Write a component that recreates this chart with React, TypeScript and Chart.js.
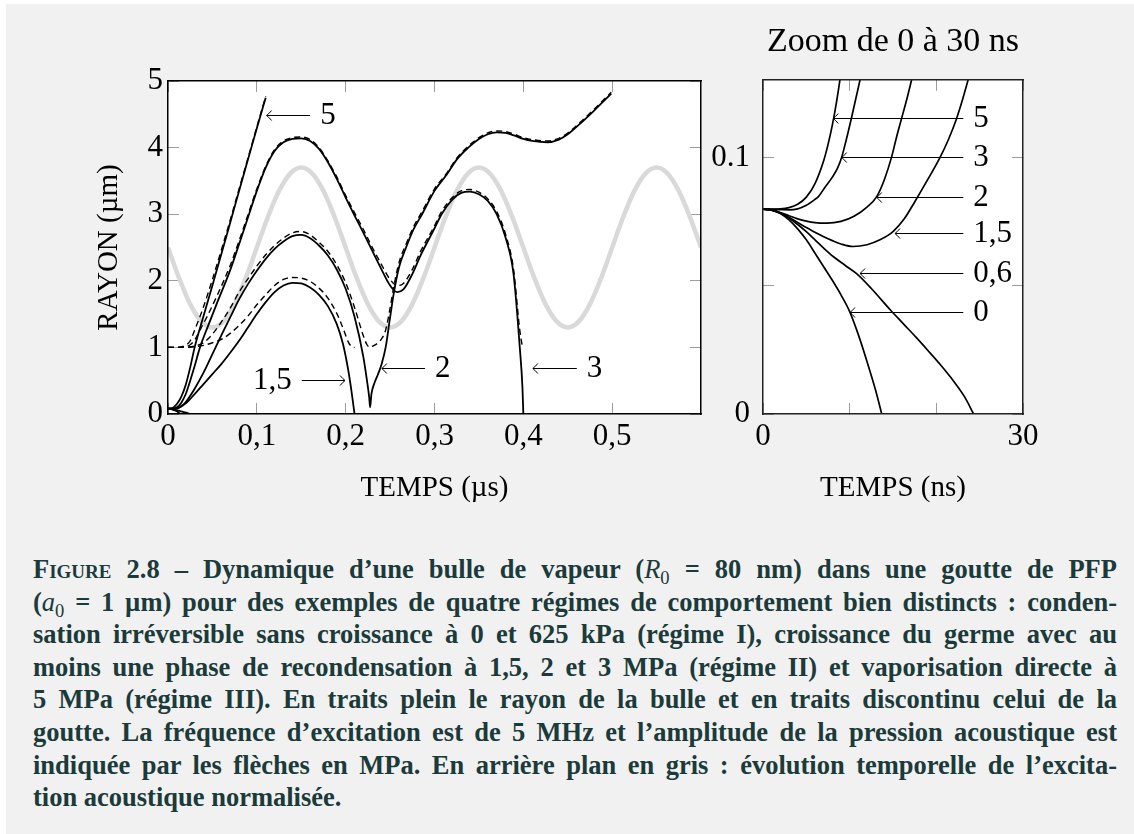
import React, { useEffect, useRef } from 'react';
import { Chart, registerables } from 'chart.js';

Chart.register(...registerables);

const SERIF = '"Liberation Serif", "Times New Roman", serif';

// ---------------- Left panel : time (µs) / radius (µm) ----------------
// 5 MPa bubble (solid) and droplet (dashed)
const t5 = [0, 0.005, 0.01, 0.015, 0.02, 0.025, 0.03, 0.04, 0.05, 0.06, 0.07, 0.08, 0.09, 0.1, 0.11];
const r5 = [0.08, 0.09, 0.15, 0.26, 0.44, 0.7, 1.0, 1.47, 1.93, 2.4, 2.87, 3.35, 3.82, 4.29, 4.75];
const d5 = [1.0, 1.0, 1.0, 1.01, 1.03, 1.1, 1.26, 1.61, 2.02, 2.46, 2.91, 3.38, 3.84, 4.31, 4.77];

// 3 MPa
const t3 = [0, 0.005, 0.01, 0.015, 0.02, 0.025, 0.03, 0.036, 0.045, 0.055, 0.07, 0.08, 0.09, 0.1, 0.11, 0.12, 0.13, 0.14, 0.15, 0.16, 0.17, 0.18, 0.19, 0.2, 0.21, 0.22, 0.23, 0.24, 0.25, 0.258, 0.265, 0.275, 0.285, 0.299, 0.308, 0.32, 0.33, 0.34, 0.35, 0.36, 0.37, 0.38, 0.389, 0.396, 0.399, 0.4];
const r3 = [0.08, 0.08, 0.1, 0.17, 0.3, 0.5, 0.72, 1.0, 1.32, 1.66, 2.16, 2.55, 2.95, 3.35, 3.7, 3.95, 4.08, 4.13, 4.14, 4.1, 3.98, 3.78, 3.53, 3.25, 2.98, 2.72, 2.45, 2.18, 1.93, 1.83, 1.87, 2.1, 2.4, 2.76, 3.0, 3.22, 3.32, 3.34, 3.3, 3.2, 3.0, 2.65, 2.1, 1.0, 0.4, 0];
const d3 = [1.0, 1.0, 1.0, 1.0, 1.01, 1.04, 1.11, 1.26, 1.49, 1.77, 2.23, 2.6, 2.99, 3.38, 3.72, 3.97, 4.1, 4.15, 4.16, 4.12, 4.0, 3.8, 3.56, 3.28, 3.02, 2.77, 2.5, 2.25, 2.02, 1.93, 1.96, 2.17, 2.46, 2.8, 3.04, 3.25, 3.35, 3.37, 3.33, 3.23, 3.04, 2.7, 2.17, 1.26, 1.02, 1.0];

// 2 MPa
const t2 = [0, 0.005, 0.01, 0.015, 0.02, 0.03, 0.04, 0.05, 0.06, 0.07, 0.08, 0.09, 0.1, 0.11, 0.12, 0.13, 0.14, 0.15, 0.16, 0.17, 0.18, 0.19, 0.2, 0.21, 0.22, 0.224, 0.2265, 0.2275, 0.229, 0.232, 0.2365, 0.2405, 0.245, 0.25, 0.254, 0.26, 0.268, 0.276, 0.286, 0.3, 0.314, 0.325, 0.338, 0.35, 0.36, 0.37, 0.38, 0.39, 0.4, 0.41, 0.427, 0.44, 0.45, 0.464, 0.48, 0.499];
const r2 = [0.08, 0.08, 0.085, 0.12, 0.18, 0.38, 0.62, 0.9, 1.18, 1.45, 1.72, 1.95, 2.15, 2.33, 2.48, 2.59, 2.67, 2.69, 2.64, 2.53, 2.38, 2.17, 1.88, 1.46, 0.85, 0.5, 0.25, 0.1, 0.3, 0.45, 0.6, 0.75, 1.0, 1.45, 1.8, 2.2, 2.5, 2.76, 3.0, 3.35, 3.6, 3.82, 4.0, 4.13, 4.2, 4.23, 4.22, 4.18, 4.13, 4.1, 4.08, 4.12, 4.2, 4.36, 4.56, 4.81];
const d2 = [1.0, 1.0, 1.0, 1.0, 1.0, 1.02, 1.07, 1.2, 1.38, 1.59, 1.83, 2.03, 2.22, 2.39, 2.53, 2.64, 2.72, 2.74, 2.69, 2.58, 2.44, 2.24, 1.97, 1.6, 1.17, 1.04, 1.005, 1.0, 1.01, 1.03, 1.07, 1.13, 1.26, 1.59, 1.9, 2.27, 2.55, 2.8, 3.04, 3.38, 3.62, 3.84, 4.02, 4.15, 4.22, 4.25, 4.24, 4.2, 4.15, 4.12, 4.1, 4.14, 4.22, 4.38, 4.58, 4.83];

// 1,5 MPa
const t15 = [0, 0.01, 0.02, 0.03, 0.04, 0.05, 0.06, 0.07, 0.08, 0.09, 0.1, 0.11, 0.12, 0.13, 0.14, 0.15, 0.16, 0.17, 0.18, 0.19, 0.197, 0.203, 0.207, 0.209, 0.21];
const r15 = [0.08, 0.085, 0.16, 0.3, 0.45, 0.6, 0.75, 0.92, 1.1, 1.3, 1.5, 1.68, 1.83, 1.93, 1.97, 1.96, 1.9, 1.79, 1.62, 1.35, 1.05, 0.65, 0.3, 0.1, 0];
const d15 = [1.0, 1.0, 1.0, 1.01, 1.03, 1.07, 1.12, 1.21, 1.33, 1.47, 1.64, 1.79, 1.93, 2.02, 2.05, 2.04, 1.99, 1.89, 1.74, 1.51, 1.29, 1.08, 1.01, 1.0, 1.0];

// normalised acoustic excitation (grey background)
const excT = [0, 0.0125, 0.025, 0.0375, 0.05, 0.0625, 0.075, 0.0875, 0.1, 0.1125, 0.125, 0.1375, 0.15, 0.1625, 0.175, 0.1875, 0.2, 0.2125, 0.225, 0.2375, 0.25, 0.2625, 0.275, 0.2875, 0.3, 0.3125, 0.325, 0.3375, 0.35, 0.3625, 0.375, 0.3875, 0.4, 0.4125, 0.425, 0.4375, 0.45, 0.4625, 0.475, 0.4875, 0.5, 0.5125, 0.525, 0.5375, 0.55, 0.5625, 0.575, 0.5875, 0.6];
const excV = [2.5, 2.04, 1.65, 1.39, 1.3, 1.39, 1.65, 2.04, 2.5, 2.96, 3.35, 3.61, 3.7, 3.61, 3.35, 2.96,
  2.5, 2.04, 1.65, 1.39, 1.3, 1.39, 1.65, 2.04, 2.5, 2.96, 3.35, 3.61, 3.7, 3.61, 3.35, 2.96,
  2.5, 2.04, 1.65, 1.39, 1.3, 1.39, 1.65, 2.04, 2.5, 2.96, 3.35, 3.61, 3.7, 3.61, 3.35, 2.96,
  2.5];

const leftXTicks = [0, 0.1, 0.2, 0.3, 0.4, 0.5];
const leftXLabels = ['0', '0,1', '0,2', '0,3', '0,4', '0,5'];
const leftYTicks = [0, 1, 2, 3, 4, 5];
const leftYLabels = ['0', '1', '2', '3', '4', '5'];

// ---------------- Right panel : zoom, time (ns) / radius (µm) ----------------
const zT0 = [0, 1, 2, 3, 4, 5, 6, 7, 8, 9, 10, 11, 12, 13, 13.7];
const zR0 = [0.08, 0.0796, 0.0783, 0.0758, 0.0723, 0.068, 0.0628, 0.0575, 0.0522, 0.0465, 0.04, 0.031, 0.0205, 0.0092, 0];
const zT06 = [0, 1, 2, 3, 4, 5, 6, 7, 8.1, 9.5, 10.8, 12.5, 14.65, 16.2, 17.7, 19, 20.4, 22, 23.3, 24.3];
const zR06 = [0.08, 0.0796, 0.0785, 0.0765, 0.074, 0.0712, 0.068, 0.0648, 0.0615, 0.058, 0.0548, 0.049, 0.0408, 0.0352, 0.0298, 0.0249, 0.0195, 0.0128, 0.0065, 0];
const zT15 = [0, 1, 2, 3, 4, 5, 6, 7, 8, 9, 10.4, 12, 13.5, 15, 16.3, 17.5, 19, 20.4, 21.4, 22.3, 23, 23.5, 24.2];
const zR15 = [0.08, 0.0796, 0.0785, 0.0768, 0.0748, 0.0728, 0.071, 0.0692, 0.0677, 0.0664, 0.0654, 0.0661, 0.068, 0.0712, 0.0762, 0.0828, 0.0915, 0.1, 0.1072, 0.115, 0.1225, 0.1285, 0.137];
const zT2 = [0, 1, 2, 3, 4, 5, 6, 7.35, 9, 10.5, 12, 13.12, 14, 14.85, 15.4, 16, 16.6, 17.15, 17.7];
const zR2 = [0.08, 0.0797, 0.0787, 0.0774, 0.0762, 0.0753, 0.0747, 0.0745, 0.0752, 0.0772, 0.0808, 0.0849, 0.0915, 0.1005, 0.108, 0.1155, 0.123, 0.1305, 0.138];
const zT3 = [0, 2, 3, 4, 5, 6, 6.4, 7, 8, 8.6, 9.1, 9.6, 10.2, 10.7, 11.2, 11.8];
const zR3 = [0.08, 0.0798, 0.0797, 0.0801, 0.0815, 0.0838, 0.0849, 0.0878, 0.0925, 0.096, 0.1005, 0.107, 0.1155, 0.123, 0.1305, 0.14];
const zT5 = [0, 1, 2, 3, 4, 5, 6, 7, 7.5, 8, 8.5, 9, 9.5];
const zR5 = [0.08, 0.08, 0.0801, 0.0806, 0.0819, 0.0847, 0.09, 0.0989, 0.1052, 0.1128, 0.1222, 0.1334, 0.1467];

const zoomXTicks = [0, 10, 20, 30];
const zoomXLabels = ['0', '', '', '30'];
const zoomYTicks = [0, 0.05, 0.1];
const zoomYLabels = ['0', '', '0.1'];

// arrow annotations: label, arrow head x, arrow tail x, y (data units)
const leftNoteText = ['5', '1,5', '2', '3'];
const leftNoteHead = [0.111, 0.1993, 0.2407, 0.4107];
const leftNoteTail = [0.160, 0.1506, 0.2894, 0.4602];
const leftNoteY = [4.49, 0.51, 0.686, 0.686];

const zoomNoteText = ['5', '3', '2', '1,5', '0,6', '0'];
const zoomNoteHead = [8.11, 9.08, 13.12, 15.23, 11.19, 10.04];
const zoomNoteTail = [23.11, 23.11, 23.11, 23.11, 23.11, 23.11];
const zoomNoteY = [0.1155, 0.1005, 0.0849, 0.0706, 0.055, 0.04];

// ---------------- helpers ----------------
const pts = (t: number[], r: number[], k = 1) => t.map((x, i) => ({ x: x * k, y: r[i] }));

const solid = (label: string, data: any[], w = 1.8) => ({
  label, data, borderColor: '#000', borderWidth: w, pointRadius: 0, fill: false,
  cubicInterpolationMode: 'monotone',
});
const dashed = (label: string, data: any[]) => ({
  label, data, borderColor: '#000', borderWidth: 1.4, borderDash: [6, 4], pointRadius: 0, fill: false,
  cubicInterpolationMode: 'monotone',
});

function scale(position: string, min: number, max: number, values: number[], labels: string[] | null,
  size: number, border: string, tickPad = 0, title: any = null) {
  const horizontal = position === 'top' || position === 'bottom';
  return {
    type: 'linear', position, min, max,
    afterBuildTicks: (s: any) => { s.ticks = values.map((v) => ({ value: v })); },
    afterFit: (s: any) => { if (horizontal) s.height = size; else s.width = size; },
    grid: { display: true, drawOnChartArea: false, drawTicks: true, tickLength: -11, color: '#9c9c9c', lineWidth: 1 },
    border: { display: true, color: border, width: 1.5, z: 1 },
    ticks: labels
      ? { display: true, autoSkip: false, maxRotation: 0, minRotation: 0, padding: tickPad, color: '#000',
          font: { family: SERIF, size: 31 }, callback: (_v: any, i: number) => labels[i] }
      : { display: false },
    title: title ? { display: true, color: '#000', ...title } : { display: false },
  };
}

function notesPlugin(id: string, text: string[], head: number[], tail: number[], ys: number[]) {
  return {
    id,
    beforeDraw(chart: any) {
      const { ctx, chartArea: a } = chart;
      ctx.save();
      ctx.fillStyle = '#ffffff';
      ctx.fillRect(a.left, a.top, a.right - a.left, a.bottom - a.top);
      ctx.restore();
    },
    afterDatasetsDraw(chart: any) {
      const { ctx } = chart;
      const xs = chart.scales.x;
      const yscale = chart.scales.y;
      ctx.save();
      ctx.strokeStyle = '#000';
      ctx.fillStyle = '#000';
      ctx.lineWidth = 1;
      ctx.font = `31px ${SERIF}`;
      ctx.textBaseline = 'middle';
      text.forEach((s, i) => {
        const xh = xs.getPixelForValue(head[i]);
        const xt = xs.getPixelForValue(tail[i]);
        const y = Math.round(yscale.getPixelForValue(ys[i])) + 0.5;
        const dir = xt > xh ? 1 : -1;
        ctx.beginPath();
        ctx.moveTo(xt, y);
        ctx.lineTo(xh, y);
        ctx.stroke();
        ctx.beginPath();
        ctx.moveTo(xh + dir * 5, y - 5);
        ctx.quadraticCurveTo(xh + dir * 1.5, y - 1, xh, y);
        ctx.quadraticCurveTo(xh + dir * 1.5, y + 1, xh + dir * 5, y + 5);
        ctx.stroke();
        ctx.textAlign = dir > 0 ? 'left' : 'right';
        ctx.fillText(s, xt + dir * 10, y);
      });
      ctx.restore();
    },
  };
}

function leftConfig(): any {
  const datasets = [
    solid('5 MPa', pts(t5, r5)),
    solid('3 MPa', pts(t3, r3)),
    solid('2 MPa', pts(t2, r2)),
    solid('1,5 MPa', pts(t15, r15)),
    solid('0,6 MPa', pts(zT06, zR06, 0.001)),
    solid('0 MPa', pts(zT0, zR0, 0.001)),
    dashed('goutte 5 MPa', pts(t5, d5)),
    dashed('goutte 3 MPa', pts(t3, d3)),
    dashed('goutte 2 MPa', pts(t2, d2)),
    dashed('goutte 1,5 MPa', pts(t15, d15)),
    { label: 'excitation', data: pts(excT, excV), borderColor: '#d9d9d9', borderWidth: 4.5, pointRadius: 0,
      fill: false, cubicInterpolationMode: 'monotone' },
  ];
  return {
    type: 'line',
    data: { datasets },
    options: {
      animation: false, responsive: false, devicePixelRatio: 1, events: [],
      layout: { padding: { top: 81, left: 0, right: 19, bottom: 0 } },
      elements: { line: { capBezierPoints: false } },
      plugins: { legend: { display: false }, tooltip: { enabled: false }, title: { display: false } },
      scales: {
        x: scale('bottom', 0, 0.6, leftXTicks, leftXLabels, 96, '#000', 15,
          { text: 'TEMPS (µs)', font: { family: SERIF, size: 29 }, padding: { top: 0, bottom: 4 } }),
        y: scale('left', 0, 5, leftYTicks, leftYLabels, 78, '#000', 16,
          { text: 'RAYON (µm)', font: { family: SERIF, size: 29 }, padding: { top: 2, bottom: 0 } }),
        x2: scale('top', 0, 0.6, leftXTicks, null, 0, '#000'),
        y2: scale('right', 0, 5, leftYTicks, null, 0, '#000'),
      },
    },
    plugins: [notesPlugin('leftNotes', leftNoteText, leftNoteHead, leftNoteTail, leftNoteY)],
  };
}

function zoomConfig(): any {
  const datasets = [
    solid('5 MPa', pts(zT5, zR5), 1.7),
    solid('3 MPa', pts(zT3, zR3), 1.7),
    solid('2 MPa', pts(zT2, zR2), 1.7),
    solid('1,5 MPa', pts(zT15, zR15), 1.7),
    solid('0,6 MPa', pts(zT06, zR06), 1.7),
    solid('0 MPa', pts(zT0, zR0), 1.7),
  ];
  return {
    type: 'line',
    data: { datasets },
    options: {
      animation: false, responsive: false, devicePixelRatio: 1, events: [],
      layout: { padding: { top: 0, left: 0, right: 111, bottom: 0 } },
      elements: { line: { capBezierPoints: false } },
      plugins: {
        legend: { display: false }, tooltip: { enabled: false },
        title: { display: true, text: 'Zoom de 0 à 30 ns', fullSize: false, color: '#000',
          font: { family: SERIF, size: 34, weight: 'normal' }, padding: { top: 22, bottom: 17 } },
      },
      scales: {
        x: scale('bottom', 0, 30, zoomXTicks, zoomXLabels, 96, '#222', 15,
          { text: 'TEMPS (ns)', font: { family: SERIF, size: 29 }, padding: { top: 0, bottom: 4 } }),
        y: scale('left', 0, 0.1305, zoomYTicks, zoomYLabels, 63, '#222', 24),
        x2: scale('top', 0, 30, zoomXTicks, null, 0, '#222'),
        y2: scale('right', 0, 0.1305, zoomYTicks, null, 0, '#222'),
      },
    },
    plugins: [notesPlugin('zoomNotes', zoomNoteText, zoomNoteHead, zoomNoteTail, zoomNoteY)],
  };
}

function ChartCanvas({ make, left, top, width, height }: any) {
  const ref = useRef<HTMLCanvasElement>(null);
  useEffect(() => {
    const chart = new Chart(ref.current as HTMLCanvasElement, make());
    return () => chart.destroy();
  }, []);
  return (
    <canvas ref={ref} width={width} height={height}
      style={{ position: 'absolute', left, top, width, height }} />
  );
}

const subStyle: React.CSSProperties = { fontSize: '0.7em', lineHeight: 0, fontWeight: 'normal' };
const mathStyle: React.CSSProperties = { fontWeight: 'normal' };

const captionLines: React.ReactNode[] = [
  <><span style={{ fontVariant: 'small-caps' }}>Figure</span> 2.8 – Dynamique d’une bulle de vapeur (<i style={mathStyle}>R</i><sub style={subStyle}>0</sub> = 80 nm) dans une goutte de PFP</>,
  <>(<i style={mathStyle}>a</i><sub style={subStyle}>0</sub> = 1 µm) pour des exemples de quatre régimes de comportement bien distincts : conden-</>,
  <>sation irréversible sans croissance à 0 et 625 kPa (régime I), croissance du germe avec au</>,
  <>moins une phase de recondensation à 1,5, 2 et 3 MPa (régime II) et vaporisation directe à</>,
  <>5 MPa (régime III). En traits plein le rayon de la bulle et en traits discontinu celui de la</>,
  <>goutte. La fréquence d’excitation est de 5 MHz et l’amplitude de la pression acoustique est</>,
  <>indiquée par les flèches en MPa. En arrière plan en gris : évolution temporelle de l’excita-</>,
  <>tion acoustique normalisée.</>,
];

export default function App() {
  return (
    <div style={{ position: 'fixed', left: 0, top: 0, width: 1134, height: 834, background: '#ffffff', overflow: 'hidden' }}>
      <div style={{ position: 'absolute', left: 6, top: 4, right: 0, bottom: 0, background: '#f1f1f1' }} />
      <ChartCanvas make={zoomConfig} left={700} top={0} width={434} height={510} />
      <ChartCanvas make={leftConfig} left={90} top={0} width={630} height={510} />
      <div style={{ position: 'absolute', left: 33, top: 553, width: 1084, fontFamily: SERIF, fontWeight: 'bold',
        fontSize: 26.5, color: '#1b3a3a' }}>
        {captionLines.map((ln, i) => (
          <div key={i} style={{ height: 32.6, lineHeight: '32.6px', whiteSpace: 'nowrap', textAlign: 'justify',
            textAlignLast: i === captionLines.length - 1 ? 'left' : 'justify' }}>{ln}</div>
        ))}
      </div>
    </div>
  );
}
